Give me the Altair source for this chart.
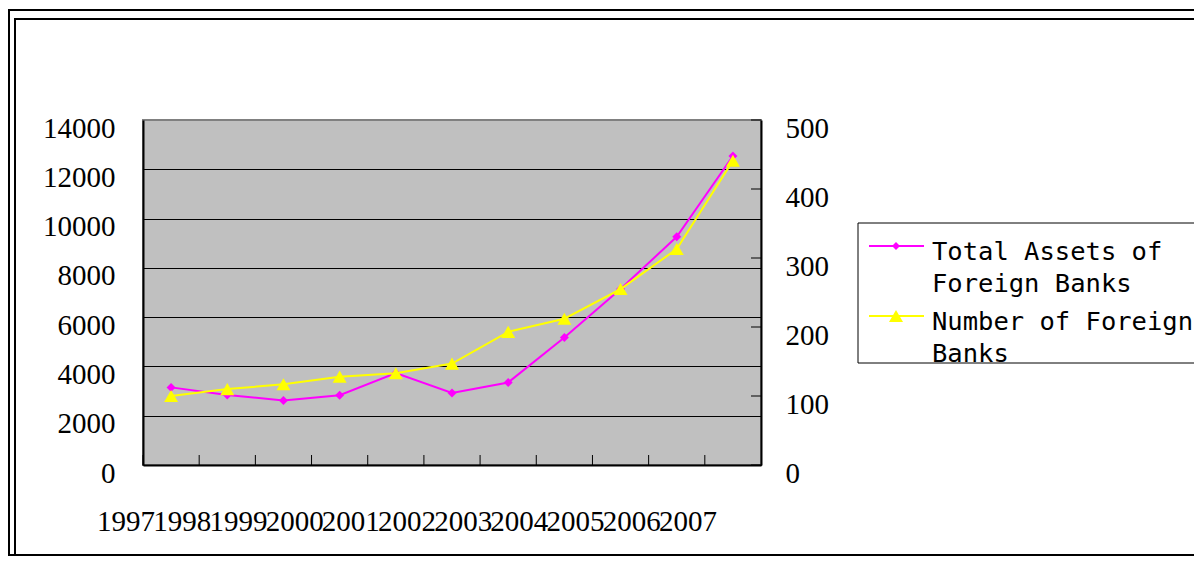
import altair as alt
import pandas as pd

# ---- data ----
years = ["1997", "1998", "1999", "2000", "2001", "2002", "2003", "2004", "2005", "2006", "2007"]
total_assets = [3150, 2840, 2620, 2830, 3730, 2920, 3350, 5170, 7140, 9260, 12540]
num_banks = [100, 110, 117, 128, 133, 147, 193, 212, 255, 313, 441]
series_names = ["Total Assets of Foreign Banks", "Number of Foreign Banks"]
legend_labels = ["Total Assets of\nForeign Banks", "Number of Foreign\nBanks"]
left_ticks = [0, 2000, 4000, 6000, 8000, 10000, 12000, 14000]
right_ticks = [0, 100, 200, 300, 400, 500]

df = pd.DataFrame({"year": years, "assets": total_assets, "banks": num_banks})
df_years = pd.DataFrame({"year": years})
df_rt = pd.DataFrame({"v": right_ticks})
df_leg = pd.DataFrame({"name": series_names, "label": legend_labels})

W, H = 618, 345
MAGENTA = "#FF00FF"
YELLOW = "#FFFF00"
NUMFONT = "Liberation Serif"
NUMSIZE = 29

x_scale = alt.Scale(type="band", paddingInner=0, paddingOuter=0, domain=years)
x_axis = alt.Axis(title=None, labelAngle=0, labelFont=NUMFONT, labelFontSize=NUMSIZE,
                  labelColor="black", labelOffset=-45, labelPadding=42, ticks=False,
                  tickSize=0, domainColor="black", domainWidth=2, labelBaseline="top",
                  grid=False, labelOverlap=False, labelFlush=False, labelBound=False)
x_enc = alt.X("year:O", scale=x_scale, axis=x_axis, bandPosition=0.5)

left_axis = alt.Axis(title=None, values=left_ticks, format="d", grid=True,
                     gridColor=alt.condition("datum.value >= 14000", alt.value("#808080"), alt.value("black")),
                     gridWidth=1, ticks=False, tickSize=0, domainColor="black", domainWidth=2,
                     labelFont=NUMFONT, labelFontSize=NUMSIZE, labelColor="black",
                     labelPadding=28, labelOffset=8)
right_axis = alt.Axis(title=None, orient="right", values=right_ticks, format="d", grid=False,
                      ticks=False, tickSize=0, domainColor="black", domainWidth=2,
                      labelFont=NUMFONT, labelFontSize=NUMSIZE, labelColor="black",
                      labelPadding=24, labelOffset=8)
left_scale = alt.Scale(domain=[0, 14000], nice=False)
right_scale = alt.Scale(domain=[0, 500], nice=False)

base = alt.Chart(df)

left_group = alt.layer(
    base.mark_line(color=MAGENTA, strokeWidth=2).encode(
        x=x_enc, y=alt.Y("assets:Q", scale=left_scale, axis=left_axis)),
    base.mark_point(shape="diamond", filled=True, size=81, color=MAGENTA, opacity=1).encode(
        x=x_enc, y=alt.Y("assets:Q", scale=left_scale, axis=left_axis)),
)

right_group = alt.layer(
    base.mark_line(color=YELLOW, strokeWidth=2).encode(
        x=x_enc, y=alt.Y("banks:Q", scale=right_scale, axis=right_axis)),
    base.mark_point(shape="triangle-up", filled=True, size=196, color=YELLOW, opacity=1).encode(
        x=x_enc, y=alt.Y("banks:Q", scale=right_scale, axis=right_axis)),
    alt.Chart(df_rt).mark_rule(color="black", strokeWidth=1).encode(
        y=alt.Y("v:Q", scale=right_scale, axis=right_axis),
        x=alt.value(W - 10), x2=alt.value(W)),
)

x_ticks = alt.Chart(df_years).mark_rule(color="black", strokeWidth=1).encode(
    x=alt.X("year:O", scale=x_scale, axis=x_axis, bandPosition=0),
    y=alt.value(H - 10), y2=alt.value(H))

# ---- decorative frame (double border) ----
frame_df = pd.DataFrame({"k": [0]})
outer = alt.Chart(frame_df).mark_rect(fillOpacity=0, stroke="black", strokeWidth=2).encode(
    x=alt.value(-134), x2=alt.value(1100), y=alt.value(-110), y2=alt.value(435))
inner = alt.Chart(frame_df).mark_rect(fillOpacity=0, stroke="black", strokeWidth=2).encode(
    x=alt.value(-128), x2=alt.value(1100), y=alt.value(-101), y2=alt.value(435))

# ---- legend ----
LX = 715
leg_box = alt.Chart(frame_df).mark_rect(fill="white", stroke="black", strokeWidth=1).encode(
    x=alt.value(LX), x2=alt.value(1100), y=alt.value(103), y2=alt.value(243))

leg0 = alt.Chart(df_leg.iloc[[0]])
leg1 = alt.Chart(df_leg.iloc[[1]])
LEGFONT = dict(font="DejaVu Sans Mono", fontSize=25.5, color="black", align="left",
               baseline="alphabetic", lineBreak="\n", lineHeight=32)
legend = alt.layer(
    leg_box,
    leg0.mark_rule(color=MAGENTA, strokeWidth=2).encode(
        x=alt.value(726), x2=alt.value(781), y=alt.value(126)),
    leg0.mark_point(shape="diamond", filled=True, size=64, color=MAGENTA, opacity=1).encode(
        x=alt.value(753), y=alt.value(126)),
    leg0.mark_text(**LEGFONT).encode(x=alt.value(789), y=alt.value(140), text="label:N"),
    leg1.mark_rule(color=YELLOW, strokeWidth=2).encode(
        x=alt.value(726), x2=alt.value(781), y=alt.value(196)),
    leg1.mark_point(shape="triangle-up", filled=True, size=196, color=YELLOW, opacity=1).encode(
        x=alt.value(753), y=alt.value(196)),
    leg1.mark_text(**LEGFONT).encode(x=alt.value(789), y=alt.value(210), text="label:N"),
)

chart = alt.layer(
    outer, inner, left_group, right_group, x_ticks, legend
).resolve_scale(y="independent").properties(
    width=W, height=H,
    padding={"left": 135, "top": 112, "right": 433, "bottom": 92},
    autosize=alt.AutoSizeParams(type="none"),
    background="white",
).configure_view(fill="#C0C0C0", stroke="#808080", strokeWidth=2)

chart.save("out.html", embed_options={"renderer": "svg", "actions": False})
